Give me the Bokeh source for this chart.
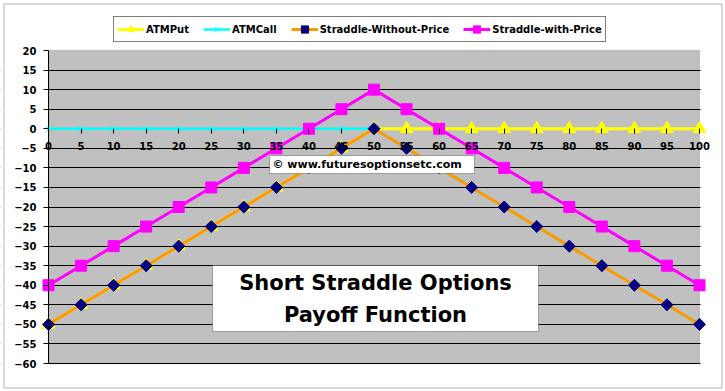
import math
from bokeh.plotting import figure
from bokeh.models import Range1d, FixedTicker, Legend, LegendItem, BoxAnnotation, Label
from bokeh.embed import file_html
from bokeh.resources import INLINE

# ---- data ----
strike_prices = [0, 5, 10, 15, 20, 25, 30, 35, 40, 45, 50, 55, 60, 65, 70, 75, 80, 85, 90, 95, 100]
atm_put = [-50, -45, -40, -35, -30, -25, -20, -15, -10, -5, 0, 0, 0, 0, 0, 0, 0, 0, 0, 0, 0]
atm_call = [0, 0, 0, 0, 0, 0, 0, 0, 0, 0, 0, -5, -10, -15, -20, -25, -30, -35, -40, -45, -50]
straddle_without_price = [-50, -45, -40, -35, -30, -25, -20, -15, -10, -5, 0,
                          -5, -10, -15, -20, -25, -30, -35, -40, -45, -50]
straddle_with_price = [-40, -35, -30, -25, -20, -15, -10, -5, 0, 5, 10,
                       5, 0, -5, -10, -15, -20, -25, -30, -35, -40]
y_ticks = [-60, -55, -50, -45, -40, -35, -30, -25, -20, -15, -10, -5, 0, 5, 10, 15, 20]
x_ticks = strike_prices
series_names = ["ATMPut", "ATMCall", "Straddle-Without-Price", "Straddle-with-Price"]
title_lines = ["Short Straddle Options", "Payoff Function"]
copyright_text = "\u00a9 www.futuresoptionsetc.com"

FONT = "DejaVu Sans"

# ---- layout (canvas pixels) ----
W, H = 724, 390
PLOT_L, PLOT_R, PLOT_T, PLOT_B = 48, 699, 50, 363
X_MIN, X_MAX, Y_MIN, Y_MAX = 0, 100, -60, 20
XU = (X_MAX - X_MIN) / (PLOT_R - PLOT_L)   # data units per pixel
YU = (Y_MAX - Y_MIN) / (PLOT_B - PLOT_T)


def px_x(px):
    return X_MIN + (px - PLOT_L) * XU


def px_y(py):
    return Y_MAX - (py - PLOT_T) * YU


# the frame covers the whole canvas; the grey plot area is drawn inside it
p = figure(width=W, height=H,
           x_range=Range1d(px_x(0), px_x(W)), y_range=Range1d(px_y(H), px_y(0)),
           output_backend="svg", toolbar_location=None,
           min_border_left=0, min_border_right=0, min_border_top=0, min_border_bottom=0,
           background_fill_color="white", border_fill_color="white",
           outline_line_color=None)

# plot area
p.add_layout(BoxAnnotation(left=X_MIN, right=X_MAX, bottom=Y_MIN, top=Y_MAX,
                           fill_color="#C0C0C0", fill_alpha=1,
                           line_color="#808080", line_width=1.5, level="image"))

# grid (limited to the plot area by white covers on both sides)
p.xgrid.visible = False
p.ygrid.ticker = FixedTicker(ticks=y_ticks[:-1])
p.ygrid.grid_line_color = "black"
p.ygrid.grid_line_width = 1
p.add_layout(BoxAnnotation(left=px_x(0), right=px_x(PLOT_L - 0.5), bottom=px_y(H), top=px_y(0),
                           fill_color="white", fill_alpha=1, line_color=None, level="underlay"))
p.add_layout(BoxAnnotation(left=px_x(PLOT_R + 1), right=px_x(W), bottom=px_y(H), top=px_y(0),
                           fill_color="white", fill_alpha=1, line_color=None, level="underlay"))

# y axis at x = 0
p.yaxis.fixed_location = X_MIN
p.yaxis.ticker = FixedTicker(ticks=y_ticks)
p.yaxis.bounds = (Y_MIN, Y_MAX)
p.yaxis.axis_line_color = "black"
p.yaxis.major_tick_out = 5
p.yaxis.major_tick_in = 0
p.yaxis.minor_tick_line_color = None
p.yaxis.major_label_standoff = 7
p.yaxis.major_label_text_font = FONT
p.yaxis.major_label_text_font_style = "bold"
p.yaxis.major_label_text_font_size = "10px"
p.yaxis.major_label_text_color = "black"

# x axis at y = 0
p.xaxis.fixed_location = 0
p.xaxis.ticker = FixedTicker(ticks=x_ticks)
p.xaxis.bounds = (X_MIN, X_MAX)
p.xaxis.axis_line_color = None
p.xaxis.major_tick_out = 5
p.xaxis.major_tick_in = 0
p.xaxis.major_tick_line_color = "black"
p.xaxis.minor_tick_line_color = None
p.xaxis.major_label_standoff = 8
p.xaxis.major_label_text_font = FONT
p.xaxis.major_label_text_font_style = "bold"
p.xaxis.major_label_text_font_size = "10px"
p.xaxis.major_label_text_color = "black"

# series
put_l = p.line(strike_prices, atm_put, line_color="#FFFF00", line_width=3)
put_m = p.scatter(strike_prices, atm_put, marker="triangle", size=13,
                  fill_color="#FFFF00", line_color="#FFFF00")
call_l = p.line(strike_prices, atm_call, line_color="#00FFFF", line_width=2.5)
call_m = p.scatter(strike_prices, atm_call, marker="x", size=8,
                   line_color="#00FFFF", line_width=1)
sw_l = p.line(strike_prices, straddle_without_price, line_color="#FF9900", line_width=3)
sw_m = p.scatter(strike_prices, straddle_without_price, marker="square", angle=math.pi / 4,
                 size=8.5, fill_color="#000080", line_color="#000080")
swp_l = p.line(strike_prices, straddle_with_price, line_color="#FF00FF", line_width=3)
swp_m = p.scatter(strike_prices, straddle_with_price, marker="square", size=11,
                  fill_color="#FF00FF", line_color="#FF00FF")

# legend box: left 113 px, bottom 42 px
legend = Legend(items=[
    LegendItem(label=series_names[0], renderers=[put_l, put_m]),
    LegendItem(label=series_names[1], renderers=[call_l, call_m]),
    LegendItem(label=series_names[2], renderers=[sw_l, sw_m]),
    LegendItem(label=series_names[3], renderers=[swp_l, swp_m]),
], orientation="horizontal", location=(113, H - 42),
    border_line_color="black", border_line_width=1,
    background_fill_color="white", background_fill_alpha=1,
    label_text_font=FONT, label_text_font_style="bold", label_text_font_size="10px",
    label_text_color="black", glyph_width=27, glyph_height=18, label_height=18,
    label_standoff=2, spacing=14, padding=3)
p.add_layout(legend)

# copyright box
p.add_layout(BoxAnnotation(left=px_x(269), right=px_x(474), top=px_y(155), bottom=px_y(173),
                           fill_color="white", fill_alpha=1,
                           line_color="black", line_width=1))
p.add_layout(Label(x=px_x(272), y=px_y(164), text=copyright_text, text_align="left",
                   text_baseline="middle", text_font=FONT, text_font_style="bold",
                   text_font_size="11px", text_color="black"))

# title box
p.add_layout(BoxAnnotation(left=px_x(212), right=px_x(538), top=px_y(265), bottom=px_y(331),
                           fill_color="white", fill_alpha=1,
                           line_color="black", line_width=1))
p.add_layout(Label(x=px_x(375), y=px_y(282), text=title_lines[0], text_align="center",
                   text_baseline="middle", text_font=FONT, text_font_style="bold",
                   text_font_size="21px", text_color="black"))
p.add_layout(Label(x=px_x(375), y=px_y(314), text=title_lines[1], text_align="center",
                   text_baseline="middle", text_font=FONT, text_font_style="bold",
                   text_font_size="21px", text_color="black"))

# chart border
p.add_layout(BoxAnnotation(left=px_x(3.5), right=px_x(721.5), top=px_y(3.5), bottom=px_y(387.5),
                           fill_color=None, fill_alpha=0,
                           line_color="black", line_width=1))

open("out.html", "w").write(file_html(p, INLINE))
